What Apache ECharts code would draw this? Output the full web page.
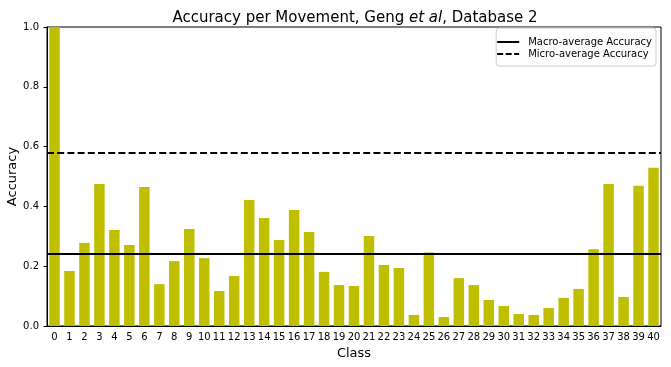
<!DOCTYPE html>
<html><head><meta charset="utf-8">
<script src="https://cdn.jsdelivr.net/npm/echarts@6/dist/echarts.min.js"></script>
<style>html,body{margin:0;padding:0;background:#fff}#c{width:671px;height:367px}</style>
</head><body><div id="c"></div>
<script>
const classes = ['0','1','2','3','4','5','6','7','8','9','10','11','12','13','14','15','16','17','18','19','20','21','22','23','24','25','26','27','28','29','30','31','32','33','34','35','36','37','38','39','40'];
const accuracy = [1.0,0.184,0.278,0.475,0.321,0.271,0.465,0.140,0.217,0.324,0.227,0.117,0.167,0.421,0.361,0.288,0.388,0.314,0.181,0.137,0.134,0.301,0.204,0.194,0.037,0.246,0.030,0.160,0.137,0.087,0.067,0.040,0.037,0.060,0.094,0.124,0.257,0.475,0.097,0.469,0.529];
const macroAvg = 0.244;
const microAvg = 0.582;
const yTicks = [0,0.2,0.4,0.6,0.8,1.0];

const font = 'DejaVu Sans';
const solidIcon = 'path://M0,0H22V2H0Z';
const dashIcon = 'path://M0,0H6V2H0Z M8.5,0H14.5V2H8.5Z M17,0H22V2H17Z';
const chart = echarts.init(document.getElementById('c'));
chart.setOption({
  animation:false,
  textStyle:{fontFamily:font},
  title:{
    text:'{n|Accuracy per Movement, Geng }{i|et al}{n|, Database 2}',
    left:350, top:6, textAlign:'center',
    textStyle:{fontWeight:'normal',rich:{
      n:{fontFamily:font,fontSize:15,color:'#000',fontWeight:'normal'},
      i:{fontFamily:font,fontSize:15,color:'#000',fontWeight:'normal',fontStyle:'italic'}
    }}
  },
  legend:{
    right:15, top:28, orient:'vertical',
    backgroundColor:'#fff', borderColor:'#ccc', borderWidth:1, borderRadius:3,
    padding:[9,4,7,1], itemGap:2, itemWidth:22, itemHeight:2,
    textStyle:{fontFamily:font,fontSize:10,color:'#000',padding:[0,0,0,4]},
    data:[
      {name:'Macro-average Accuracy', icon:solidIcon, itemStyle:{color:'#000'}},
      {name:'Micro-average Accuracy', icon:dashIcon, itemStyle:{color:'#000'}}
    ]
  },
  grid:{left:47,right:10,top:27,bottom:41,outerBoundsMode:'none',containLabel:false,
        show:true,borderColor:'#000',borderWidth:1,backgroundColor:'transparent'},
  xAxis:{
    type:'category', data:classes,
    name:'Class', nameLocation:'middle', nameGap:21,
    nameTextStyle:{fontFamily:font,fontSize:13,color:'#000'},
    axisLine:{lineStyle:{color:'#000'}},
    axisTick:{alignWithLabel:true,length:3.5,lineStyle:{color:'#000'}},
    axisLabel:{interval:0,fontFamily:font,fontSize:10,color:'#000',margin:6},
    splitLine:{show:false}
  },
  yAxis:{
    type:'value', min:0, max:1, interval:0.2,
    name:'Accuracy', nameLocation:'middle', nameGap:28, nameMoveOverlap:false,
    nameTextStyle:{fontFamily:font,fontSize:13,color:'#000'},
    axisLine:{show:true,lineStyle:{color:'#000'}},
    axisTick:{show:true,length:3.5,lineStyle:{color:'#000'}},
    axisLabel:{fontFamily:font,fontSize:10,color:'#000',margin:8,formatter:v=>v.toFixed(1)},
    splitLine:{show:false}
  },
  series:[
    {type:'bar', name:'Accuracy', data:accuracy, barWidth:'70%', itemStyle:{color:'#bfbf00'}},
    {type:'line', name:'Macro-average Accuracy', data:[], symbol:'none',
     lineStyle:{color:'#000',width:2,type:'solid'}, itemStyle:{color:'#000'},
     markLine:{silent:true,symbol:'none',label:{show:false},
       lineStyle:{color:'#000',width:2,type:'solid'}, data:[{yAxis:macroAvg}]}},
    {type:'line', name:'Micro-average Accuracy', data:[], symbol:'none',
     lineStyle:{color:'#000',width:2,type:[7,3.2]}, itemStyle:{color:'#000'},
     markLine:{silent:true,symbol:'none',label:{show:false},
       lineStyle:{color:'#000',width:2,type:[7,3.2]}, data:[{yAxis:microAvg}]}}
  ]
});
</script></body></html>
